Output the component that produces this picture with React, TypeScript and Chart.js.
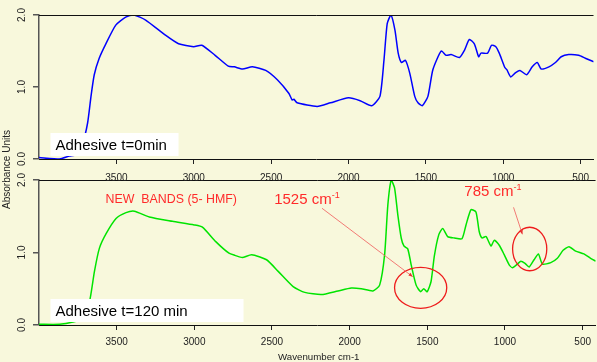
import React, { useEffect, useRef } from 'react';
import { Chart, registerables } from 'chart.js';

Chart.register(...registerables);

// ---------------- DATA ----------------
const wavenumbersT0 = [
  4000, 3868, 3804, 3761, 3718, 3686, 3664, 3643, 3611, 3568, 3504, 3440, 3386, 3311, 3183, 3098,
  3001, 2948, 2862, 2777, 2738, 2685, 2621, 2535, 2460, 2385, 2364, 2353, 2332, 2203, 2117, 2000,
  1925, 1850, 1797, 1771, 1750, 1726, 1700, 1679, 1658, 1632, 1604, 1572, 1551, 1523, 1487, 1455,
  1401, 1369, 1337, 1283, 1251, 1219, 1187, 1159, 1144, 1101, 1076, 1048, 1026, 990, 977, 952,
  920, 892, 849, 813, 780, 755, 705, 663, 626, 577, 513, 470, 415,
];
const absorbanceT0 = [
  0.02, 0.0, 0.04, 0.06, 0.22, 0.5, 0.87, 1.17, 1.4, 1.6, 1.86, 1.97, 2.0, 1.93, 1.72, 1.6,
  1.56, 1.58, 1.44, 1.29, 1.28, 1.25, 1.28, 1.23, 1.1, 0.91, 0.82, 0.83, 0.78, 0.73, 0.78, 0.85,
  0.81, 0.74, 0.87, 1.37, 1.88, 2.0, 1.79, 1.47, 1.34, 1.37, 1.19, 0.87, 0.78, 0.74, 0.87, 1.24,
  1.5, 1.44, 1.45, 1.41, 1.51, 1.66, 1.6, 1.42, 1.47, 1.47, 1.58, 1.56, 1.47, 1.27, 1.24, 1.14,
  1.2, 1.23, 1.17, 1.28, 1.34, 1.25, 1.28, 1.34, 1.42, 1.45, 1.44, 1.4, 1.35,
];

const wavenumbersT120 = [
  4000, 3868, 3782, 3718, 3675, 3643, 3611, 3568, 3504, 3440, 3386, 3290, 3141, 3001, 2948, 2862,
  2777, 2738, 2691, 2631, 2535, 2460, 2364, 2289, 2182, 2075, 1989, 1925, 1850, 1807, 1775, 1754,
  1732, 1711, 1690, 1668, 1651, 1626, 1604, 1572, 1544, 1523, 1501, 1476, 1455, 1427, 1401, 1369,
  1326, 1277, 1251, 1219, 1187, 1166, 1148, 1122, 1090, 1069, 1037, 1005, 973, 952, 920, 898,
  871, 845, 813, 785, 759, 705, 663, 626, 588, 545, 492, 449, 415,
];
const absorbanceT120 = [
  0.01, 0.01, 0.04, 0.09, 0.32, 0.74, 1.06, 1.26, 1.47, 1.55, 1.57, 1.49, 1.43, 1.38, 1.35, 1.15,
  0.99, 0.96, 0.93, 0.97, 0.9, 0.74, 0.53, 0.45, 0.42, 0.47, 0.51, 0.5, 0.47, 0.55, 0.97, 1.66,
  2.0, 1.89, 1.52, 1.2, 1.09, 1.05, 0.83, 0.55, 0.46, 0.5, 0.46, 0.6, 0.95, 1.24, 1.33, 1.22,
  1.2, 1.19, 1.38, 1.59, 1.56, 1.29, 1.2, 1.22, 1.09, 1.17, 1.1, 0.97, 0.83, 0.79, 0.84, 0.88,
  0.85, 0.8, 0.9, 0.98, 0.84, 0.86, 0.92, 1.03, 1.08, 1.02, 0.98, 0.92, 0.88,
];

const xTickValues = [3500, 3000, 2500, 2000, 1500, 1000, 500];
const yTickValues = [0, 1, 2];
const yTickLabels = ['0.0', '1.0', '2.0'];
const panelLabels = ['Adhesive t=0min', 'Adhesive t=120 min'];
const xAxisTitle = 'Wavenumber cm-1';
const yAxisTitle = 'Absorbance Units';
const newBandsText = 'NEW  BANDS (5- HMF)';
const band1Text = '1525 cm';
const band2Text = '785 cm';
const superscriptText = '-1';

// ---------------- STYLE ----------------
const W = 597;
const H = 362;
const BG = '#f8f8dc';
const FONT = '"Liberation Sans", Arial, Helvetica, sans-serif';
const X_MIN = 417;
const X_MAX = 4000;
const RED = '#ff2a2a';

Chart.defaults.font.family = FONT;

type PanelCfg = {
  wn: number[];
  ab: number[];
  color: string;
  label: string;
  boxW: number;
  areaTop: number;
  areaBottom: number;
  axisH: number;
  tickPad: number;
  isTop: boolean;
};

function arrow(ctx: CanvasRenderingContext2D, x1: number, y1: number, x2: number, y2: number) {
  ctx.save();
  ctx.strokeStyle = '#f05a5a';
  ctx.fillStyle = '#e83030';
  ctx.lineWidth = 0.8;
  ctx.beginPath();
  ctx.moveTo(x1, y1);
  ctx.lineTo(x2, y2);
  ctx.stroke();
  const ang = Math.atan2(y2 - y1, x2 - x1);
  const s = 4.5;
  ctx.beginPath();
  ctx.moveTo(x2, y2);
  ctx.lineTo(x2 - s * Math.cos(ang - 0.4), y2 - s * Math.sin(ang - 0.4));
  ctx.lineTo(x2 - s * Math.cos(ang + 0.4), y2 - s * Math.sin(ang + 0.4));
  ctx.closePath();
  ctx.fill();
  ctx.restore();
}

function bandLabel(ctx: CanvasRenderingContext2D, text: string, x: number, y: number) {
  ctx.save();
  ctx.fillStyle = RED;
  ctx.font = `15px ${FONT}`;
  ctx.textBaseline = 'alphabetic';
  ctx.textAlign = 'left';
  ctx.fillText(text, x, y);
  const w = ctx.measureText(text).width;
  ctx.font = `9px ${FONT}`;
  ctx.fillText(superscriptText, x + w, y - 6);
  ctx.restore();
}

function drawAnnotations(chart: any) {
  const { ctx } = chart;
  const xs = chart.scales.x;
  const ys = chart.scales.y;
  const px = (v: number) => xs.getPixelForValue(v);
  const py = (v: number) => ys.getPixelForValue(v);

  ctx.save();
  ctx.fillStyle = RED;
  ctx.font = `12.4px ${FONT}`;
  ctx.textBaseline = 'middle';
  ctx.fillText(newBandsText, px(3572), py(1.724));
  ctx.restore();

  bandLabel(ctx, band1Text, px(2486), py(1.665));
  bandLabel(ctx, band2Text, px(1262), py(1.783));

  const ell = (cx: number, cy: number, rx: number, ry: number) => {
    const x = px(cx);
    const y = py(cy);
    const rxp = Math.abs(px(cx - rx) - x);
    const ryp = Math.abs(py(cy + ry) - y);
    ctx.save();
    ctx.strokeStyle = '#ee1c1c';
    ctx.lineWidth = 1.3;
    ctx.beginPath();
    ctx.ellipse(x, y, rxp, ryp, 0, 0, Math.PI * 2);
    ctx.stroke();
    ctx.restore();
  };
  ell(1543, 0.513, 168, 0.283);
  ell(841, 1.048, 110, 0.3);

  arrow(ctx, px(2178), py(1.61), px(1594), py(0.666));
  arrow(ctx, px(945), py(1.623), px(888), py(1.251));
}

function makePanel(canvas: HTMLCanvasElement, cfg: PanelCfg): Chart {
  const points = cfg.wn.map((x, i) => ({ x, y: cfg.ab[i] }));
  const decor = {
    id: 'decor',
    afterDatasetsDraw(chart: any) {
      const { ctx, chartArea: a } = chart;
      ctx.save();
      const bx = a.left + 11.5;
      const by = a.bottom - 26;
      ctx.fillStyle = '#ffffff';
      ctx.fillRect(bx, by, cfg.boxW, 23);
      ctx.fillStyle = '#000000';
      ctx.font = `15px ${FONT}`;
      ctx.textBaseline = 'alphabetic';
      ctx.textAlign = 'left';
      ctx.fillText(cfg.label, bx + 5, by + 17);
      ctx.restore();
      if (!cfg.isTop) drawAnnotations(chart);
    },
    afterDraw(chart: any) {
      const { ctx, chartArea: a } = chart;
      const ys = chart.scales.y;
      ctx.save();
      // top frame line
      ctx.strokeStyle = '#111';
      ctx.lineWidth = 1;
      ctx.beginPath();
      ctx.moveTo(a.left, Math.round(a.top) + 0.5);
      ctx.lineTo(a.right, Math.round(a.top) + 0.5);
      ctx.stroke();
      // rotated y tick labels
      ctx.fillStyle = '#222';
      ctx.font = `10px ${FONT}`;
      ctx.textAlign = 'center';
      ctx.textBaseline = 'middle';
      yTickValues.forEach((v, i) => {
        const y = ys.getPixelForValue(v);
        ctx.save();
        ctx.translate(22.5, y);
        ctx.rotate(-Math.PI / 2);
        ctx.fillText(yTickLabels[i], 0, 0);
        ctx.restore();
      });
      if (cfg.isTop) {
        ctx.save();
        ctx.translate(7.5, 169.5);
        ctx.rotate(-Math.PI / 2);
        ctx.fillStyle = '#222';
        ctx.font = `10px ${FONT}`;
        ctx.fillText(yAxisTitle, 0, 0);
        ctx.restore();
      } else {
        ctx.fillStyle = '#222';
        ctx.font = `9.7px ${FONT}`;
        ctx.fillText(xAxisTitle, (a.left + a.right) / 2 + 1.5, 357.3);
      }
      ctx.restore();
    },
  };

  return new Chart(canvas, {
    type: 'line',
    data: {
      datasets: [
        {
          data: points,
          borderColor: cfg.color,
          borderWidth: 1.5,
          pointRadius: 0,
          tension: 0.2,
          fill: false,
        },
      ],
    },
    options: {
      animation: false,
      responsive: false,
      maintainAspectRatio: false,
      devicePixelRatio: 1,
      layout: {
        padding: { top: cfg.areaTop, left: 0, right: 0, bottom: H - cfg.areaBottom - cfg.axisH },
      },
      plugins: { legend: { display: false }, tooltip: { enabled: false } },
      scales: {
        x: {
          type: 'linear',
          reverse: true,
          min: X_MIN,
          max: X_MAX,
          afterBuildTicks: (s: any) => {
            s.ticks = xTickValues.map((v) => ({ value: v }));
          },
          afterFit: (s: any) => {
            s.height = cfg.axisH;
          },
          grid: { drawOnChartArea: false, drawTicks: true, tickLength: 5, color: '#222', lineWidth: 1 },
          border: { display: true, color: '#111', width: 1 },
          ticks: {
            autoSkip: false,
            maxRotation: 0,
            minRotation: 0,
            padding: cfg.tickPad,
            color: '#222',
            font: { size: 10, family: FONT },
            callback: (v: any) => String(v),
          },
        },
        y: {
          type: 'linear',
          min: 0,
          max: 2,
          afterBuildTicks: (s: any) => {
            s.ticks = yTickValues.map((v) => ({ value: v }));
          },
          afterFit: (s: any) => {
            s.width = 39;
          },
          grid: { drawOnChartArea: false, drawTicks: true, tickLength: 6, color: '#555', lineWidth: 1.5 },
          border: { display: true, color: '#555', width: 1.5 },
          ticks: { display: false },
        },
      },
    } as any,
    plugins: [decor],
  } as any);
}

export default function App() {
  const topRef = useRef<HTMLCanvasElement>(null);
  const botRef = useRef<HTMLCanvasElement>(null);

  useEffect(() => {
    const bottom = makePanel(botRef.current!, {
      wn: wavenumbersT120,
      ab: absorbanceT120,
      color: '#00e400',
      label: panelLabels[1],
      boxW: 193,
      areaTop: 180,
      areaBottom: 325,
      axisH: 37,
      tickPad: 6,
      isTop: false,
    });
    const top = makePanel(topRef.current!, {
      wn: wavenumbersT0,
      ab: absorbanceT0,
      color: '#0000ff',
      label: panelLabels[0],
      boxW: 128,
      areaTop: 15,
      areaBottom: 159,
      axisH: 23,
      tickPad: 8,
      isTop: true,
    });
    return () => {
      top.destroy();
      bottom.destroy();
    };
  }, []);

  return (
    <div
      style={{
        position: 'fixed',
        left: 0,
        top: 0,
        width: W,
        height: H,
        background: BG,
        overflow: 'hidden',
      }}
    >
      <canvas ref={botRef} width={W} height={H} style={{ position: 'absolute', left: 0, top: 0 }} />
      <canvas ref={topRef} width={W} height={H} style={{ position: 'absolute', left: 0, top: 0 }} />
    </div>
  );
}
